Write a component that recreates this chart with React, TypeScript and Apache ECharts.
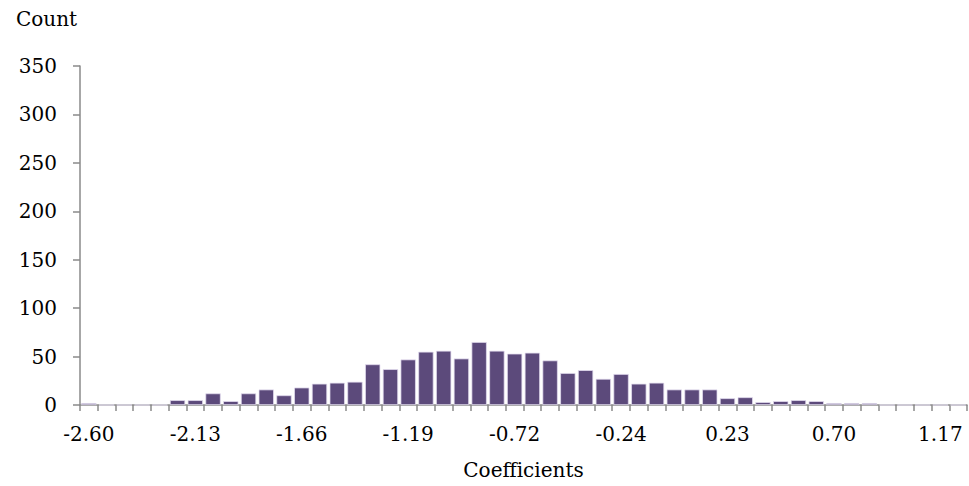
import React, { useEffect, useRef } from "react";
import * as echarts from "echarts";

const categories: string[] = [
  "-2.60", "-2.52", "-2.44", "-2.36", "-2.29", "-2.21",
  "-2.13", "-2.05", "-1.97", "-1.89", "-1.81", "-1.74",
  "-1.66", "-1.58", "-1.50", "-1.42", "-1.34", "-1.26",
  "-1.19", "-1.11", "-1.03", "-0.95", "-0.87", "-0.79",
  "-0.72", "-0.64", "-0.56", "-0.48", "-0.40", "-0.32",
  "-0.24", "-0.17", "-0.09", "-0.01", "0.07", "0.15",
  "0.23", "0.31", "0.38", "0.46", "0.54", "0.62",
  "0.70", "0.78", "0.86", "0.93", "1.01", "1.09",
  "1.17", "1.25",
];

const counts: number[] = [
  2, 0, 0, 0, 0, 5,
  5, 12, 4, 12, 16, 10,
  18, 22, 23, 24, 42, 37,
  47, 55, 56, 48, 65, 56,
  53, 54, 46, 33, 36, 27,
  32, 22, 23, 16, 16, 16,
  7, 8, 3, 4, 5, 4,
  2, 2, 2, 0, 0, 0,
  0, 0,
];

const yTicks = { min: 0, max: 350, interval: 50 };
const xAxisTitle = "Coefficients";
const yAxisTitle = "Count";

const FONT = "DejaVu Serif";
const FS = 20;
const AXIS_GREY = "#8a8a8a";

export default function App() {
  const ref = useRef<HTMLDivElement>(null);

  useEffect(() => {
    if (!ref.current) return;
    const chart = echarts.init(ref.current, undefined, { renderer: "svg" });
    chart.setOption({
      animation: false,
      backgroundColor: "#ffffff",
      textStyle: { fontFamily: FONT },
      grid: { left: 80, right: 2, top: 66, bottom: 81, containLabel: false },
      graphic: [
        {
          type: "text",
          left: 16,
          top: 9,
          style: { text: yAxisTitle, font: `${FS}px '${FONT}'`, fill: "#000" },
        },
      ],
      xAxis: {
        type: "category",
        data: categories,
        boundaryGap: true,
        name: xAxisTitle,
        nameLocation: "middle",
        nameGap: 55,
        nameTextStyle: { color: "#000", fontSize: FS, fontFamily: FONT },
        axisLine: { show: true, lineStyle: { color: AXIS_GREY, width: 1.5 } },
        axisTick: {
          show: true,
          alignWithLabel: false,
          interval: 0,
          length: 6,
          lineStyle: { color: AXIS_GREY, width: 1.5 },
        },
        axisLabel: {
          interval: 5,
          margin: 19,
          color: "#000",
          fontSize: FS,
          fontFamily: FONT,
        },
        splitLine: { show: false },
      },
      yAxis: {
        type: "value",
        min: yTicks.min,
        max: yTicks.max,
        interval: yTicks.interval,
        axisLine: { show: true, lineStyle: { color: AXIS_GREY, width: 1.5 } },
        axisTick: { show: true, length: 7, lineStyle: { color: AXIS_GREY, width: 1.5 } },
        axisLabel: { margin: 23, color: "#000", fontSize: FS, fontFamily: FONT },
        splitLine: { show: false },
      },
      series: [
        {
          type: "bar",
          data: counts,
          barCategoryGap: "14%",
          itemStyle: {
            color: "#5c4a7b",
            borderColor: "#e4def0",
            borderWidth: 0.75,
          },
        },
      ],
    });
    return () => chart.dispose();
  }, []);

  return (
    <div
      ref={ref}
      style={{ position: "absolute", left: 0, top: 0, width: 969, height: 486 }}
    />
  );
}
